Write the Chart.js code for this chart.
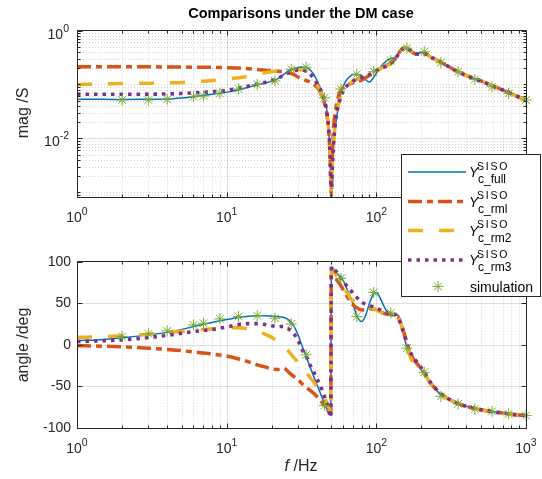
<!DOCTYPE html>
<html>
<head>
<meta charset="utf-8">
<script src="https://cdn.jsdelivr.net/npm/chart.js@4.4.1/dist/chart.umd.min.js"></script>
<style>
  html, body { margin: 0; padding: 0; background: #fff; }
  #wrap { position: relative; width: 542px; height: 479px; overflow: hidden; }
  #magChart { position: absolute; left: 0; top: 0; }
  #angChart { position: absolute; left: 0; top: 240px; }
  #overlay { position: absolute; left: 0; top: 0; pointer-events: none; }
</style>
</head>
<body>
<div id="wrap">
  <canvas id="magChart" width="542" height="240"></canvas>
  <canvas id="angChart" width="542" height="239"></canvas>
  <svg id="overlay" width="542" height="479" font-family="'Liberation Sans', Arial, sans-serif">
    <text x="301" y="18" text-anchor="middle" font-size="14.5" font-weight="bold" fill="#000">Comparisons under the DM case</text>
    <text transform="translate(28,113) rotate(-90)" text-anchor="middle" font-size="16" fill="#262626">mag /S</text>
    <text transform="translate(28,345) rotate(-90)" text-anchor="middle" font-size="16" fill="#262626">angle /deg</text>
    <text x="301" y="471" text-anchor="middle" font-size="16" fill="#262626"><tspan font-style="italic">f</tspan> /Hz</text>
    <g id="legend"></g>
  </svg>
</div>
<script>
// 1. Data (frequency in Hz)
const FREQ = [
  1, 1.5, 2, 3, 4, 5, 6, 8, 10, 12,
  14, 16, 18, 20, 22, 24, 26, 28, 30, 32,
  34, 36, 38, 40, 42, 44, 46, 47, 48, 49,
  49.6, 50, 50.4, 51, 52, 54, 56, 58, 61, 64,
  67, 70, 75, 80, 85, 90, 95, 100, 105, 110,
  115, 120, 125, 130, 135, 140, 145, 150, 155, 160,
  170, 180, 190, 200, 215, 230, 250, 275, 300, 350,
  400, 500, 600, 700, 850, 1000
];

// magnitude /S
const MAG_FULL = [
  0.053, 0.053, 0.0525, 0.053, 0.0536, 0.056, 0.059, 0.0655, 0.072, 0.08,
  0.089, 0.098, 0.106, 0.114, 0.128, 0.152, 0.178, 0.197, 0.206, 0.21,
  0.207, 0.187, 0.156, 0.121, 0.0895, 0.0636, 0.0415, 0.0295, 0.0155, 0.0049,
  0.00136, 0.0002, 0.0015, 0.004, 0.00865, 0.0219, 0.0415, 0.0722, 0.1016, 0.126,
  0.143, 0.153, 0.153, 0.143, 0.121, 0.111, 0.129, 0.163, 0.197, 0.234,
  0.26, 0.29, 0.302, 0.309, 0.322, 0.366, 0.426, 0.473, 0.494, 0.484,
  0.426, 0.383, 0.374, 0.391, 0.383, 0.325, 0.29, 0.249, 0.219, 0.173,
  0.146, 0.116, 0.0933, 0.0787, 0.0622, 0.0514
];
const MAG_RML = [
  0.213, 0.213, 0.212, 0.212, 0.211, 0.21, 0.209, 0.207, 0.204, 0.201,
  0.196, 0.19, 0.184, 0.178, 0.175, 0.172, 0.165, 0.153, 0.137, 0.126,
  0.118, 0.112, 0.102, 0.0895, 0.0722, 0.054, 0.035, 0.025, 0.0143, 0.0049,
  0.0015, 0.0009, 0.0015, 0.006, 0.018, 0.04, 0.062, 0.0787, 0.0895, 0.0975,
  0.104, 0.108, 0.113, 0.121, 0.134, 0.146, 0.163, 0.181, 0.193, 0.206,
  0.219, 0.234, 0.249, 0.272, 0.309, 0.366, 0.426, 0.473, 0.494, 0.473,
  0.417, 0.374, 0.366, 0.374, 0.366, 0.322, 0.29, 0.249, 0.219, 0.173,
  0.146, 0.116, 0.0933, 0.0787, 0.0622, 0.0514
];
const MAG_RM2 = [
  0.1, 0.102, 0.104, 0.105, 0.107, 0.109, 0.112, 0.118, 0.126, 0.133,
  0.143, 0.156, 0.165, 0.172, 0.178, 0.184, 0.188, 0.19, 0.19, 0.186,
  0.175, 0.156, 0.128, 0.1, 0.0755, 0.0536, 0.035, 0.026, 0.015, 0.0052,
  0.0016, 0.0011, 0.0016, 0.004, 0.0093, 0.026, 0.0433, 0.061, 0.0822, 0.0955,
  0.106, 0.116, 0.126, 0.134, 0.143, 0.153, 0.166, 0.181, 0.193, 0.206,
  0.215, 0.229, 0.244, 0.272, 0.309, 0.359, 0.417, 0.463, 0.484, 0.473,
  0.417, 0.374, 0.366, 0.374, 0.366, 0.322, 0.29, 0.249, 0.219, 0.173,
  0.146, 0.116, 0.0933, 0.0787, 0.0622, 0.0514
];
const MAG_RM3 = [
  0.0655, 0.0656, 0.0657, 0.066, 0.0665, 0.068, 0.0695, 0.073, 0.078, 0.085,
  0.093, 0.101, 0.109, 0.118, 0.13, 0.148, 0.165, 0.178, 0.186, 0.186,
  0.175, 0.156, 0.131, 0.106, 0.0847, 0.061, 0.0398, 0.0272, 0.0155, 0.0056,
  0.00166, 0.0012, 0.00166, 0.004, 0.0093, 0.026, 0.0433, 0.061, 0.0822, 0.0955,
  0.106, 0.116, 0.126, 0.134, 0.143, 0.153, 0.166, 0.181, 0.193, 0.206,
  0.215, 0.229, 0.244, 0.272, 0.309, 0.359, 0.417, 0.463, 0.484, 0.473,
  0.417, 0.374, 0.366, 0.374, 0.366, 0.322, 0.29, 0.249, 0.219, 0.173,
  0.146, 0.116, 0.0933, 0.0787, 0.0622, 0.0514
];

// angle /deg
const ANG_FULL = [
  5, 6.5, 8.5, 12, 15, 18.5, 22, 27, 30.5, 33,
  34.5, 35, 35, 34.5, 34, 33, 30, 23, 12, -2,
  -14, -26, -37, -47, -57, -66, -75, -78, -81, -84,
  -85, 90, 94, 93, 91, 87, 84, 81, 75, 66,
  58, 48, 33, 28, 36, 50, 60, 63, 58, 50,
  43, 38, 35.5, 35, 36, 35.5, 29, 18, 6, -3,
  -14, -20, -25, -30, -38, -47, -54, -61, -65, -71,
  -74, -78, -80.5, -82, -84, -85
];
const ANG_RML = [
  -1, -1.7, -2.4, -4, -5.6, -7, -8.6, -11, -13.5, -17,
  -20.5, -24, -26.5, -29, -29.5, -28, -33, -38, -42, -47,
  -51, -54.5, -58, -62, -66, -71, -76, -78, -80, -82,
  -83, 82, 84, 84, 83, 79, 75, 71, 64, 58,
  52, 48, 44, 42, 42.5, 43.5, 43, 42, 40.5, 38.5,
  37.5, 37, 36.5, 36, 35, 33, 28, 20, 11, 1,
  -11, -19, -24, -29, -37, -46, -53, -60, -64.5, -70.5,
  -74, -78, -80.5, -82, -84, -85
];
const ANG_RM2 = [
  9, 9.8, 10.8, 12.8, 14.8, 16.3, 17.5, 19.5, 20.5, 20.5,
  19, 16.5, 13, 9, 4, -2, -8, -15, -21, -27,
  -33, -39, -44, -50, -55, -61, -67, -71, -75, -80,
  -84, 86, 90, 90, 88, 84, 80, 75, 68, 62,
  56, 53, 51, 49, 47, 45, 44, 42, 40, 38,
  36, 34.5, 33.5, 33, 33, 32, 27, 18, 8, -2,
  -16, -23, -27, -31, -38, -46, -53, -60, -64.5, -70.5,
  -74, -78, -80.5, -82, -84, -85
];
const ANG_RM3 = [
  4, 5, 6, 8.8, 11.5, 14, 16, 18.5, 21.5, 24.5,
  25.5, 25.5, 24.5, 23, 22, 22, 19, 14, 5, -6,
  -14, -24, -32, -40, -48, -57, -67, -72, -78, -85,
  -87, 90, 94, 93, 91, 88, 84, 80, 75, 70,
  66, 62, 56, 51, 49, 47, 46, 44, 42.5, 40.5,
  39, 38, 37.5, 37, 36, 32, 26, 18, 11, 2,
  -10, -17, -22, -28, -36, -45, -53, -60, -64.5, -70.5,
  -74, -78, -80.5, -82, -84, -85
];

// simulation points
const SIM_FREQ = [2, 3, 4, 6, 7, 9, 12, 16, 21, 27, 34, 45, 58, 74, 96, 125, 160, 209, 270, 352, 455, 593, 765, 1000];
const SIM_MAG = [0.0514, 0.0514, 0.053, 0.0591, 0.061, 0.0684, 0.0822, 0.1, 0.116, 0.191, 0.208, 0.0566, 0.0822, 0.154, 0.172, 0.275, 0.468, 0.404, 0.253, 0.172, 0.124, 0.0906, 0.0684, 0.0514];
const SIM_ANG = [10, 13.2, 16.8, 24, 26, 31.2, 34, 35.2, 32, 25.2, -12, -72.8, 80, 34, 63, 38.4, -4, -33, -62, -71, -77, -80, -83, -85];

// tick labels
const X_TICKS = [1, 10, 100, 1000];
const MAG_TICKS = [0.01, 1];
const ANG_TICKS = [-100, -50, 0, 50, 100];
const SERIES_SUBS = ['c_full', 'c_rml', 'c_rm2', 'c_rm3'];

// 2. Styles (MATLAB default colour order)
const STYLES = [
  { color: '#0072BD', width: 1.5, dash: [], order: 4 },
  { color: '#D95319', width: 3.5, dash: [14, 5, 6, 5], order: 3 },
  { color: '#EDB120', width: 3.5, dash: [15, 16], order: 2 },
  { color: '#7E2F8E', width: 3.6, dash: [3.5, 5], order: 1 }
];
const SIM_COLOR = '#77AC30';
const FONT = '"Liberation Sans", Arial, sans-serif';
const AX_COLOR = '#262626';

function logMinor(lo, hi) {
  const out = [];
  for (let e = Math.floor(Math.log10(lo)); e < Math.ceil(Math.log10(hi)); e++) {
    for (let k = 1; k <= 9; k++) {
      const v = k * Math.pow(10, e);
      if (v > lo && v < hi) out.push(v);
    }
  }
  return out;
}

function drawPow(ctx, x, base, exp, align) {
  ctx.font = '14px ' + FONT;
  const w1 = ctx.measureText('10').width;
  ctx.font = '10.5px ' + FONT;
  const w2 = ctx.measureText(exp).width;
  const x0 = align === 'right' ? x - w1 - w2 : x - (w1 + w2) / 2;
  ctx.textAlign = 'left';
  ctx.textBaseline = 'alphabetic';
  ctx.font = '14px ' + FONT;
  ctx.fillText('10', x0, base);
  ctx.font = '10.5px ' + FONT;
  ctx.fillText(exp, x0 + w1, base - 7);
}

// 3. Axes plugin: grid, box, inward ticks, tick labels
function makeAxes(cfg) {
  const snap = v => Math.round(v) + 0.5;
  return {
    id: 'matlabAxes',
    beforeDatasetsDraw(chart) {
      const ctx = chart.ctx, a = chart.chartArea, xs = chart.scales.x, ys = chart.scales.y;
      ctx.save();
      ctx.lineWidth = 1;
      ctx.strokeStyle = 'rgba(38,38,38,0.2)';
      ctx.setLineDash([1, 2]);
      ctx.beginPath();
      cfg.xMinor.forEach(v => { const p = snap(xs.getPixelForValue(v)); ctx.moveTo(p, a.top); ctx.lineTo(p, a.bottom); });
      cfg.yMinorGrid.forEach(v => { const p = snap(ys.getPixelForValue(v)); ctx.moveTo(a.left, p); ctx.lineTo(a.right, p); });
      ctx.stroke();
      ctx.setLineDash([]);
      ctx.strokeStyle = 'rgba(38,38,38,0.15)';
      ctx.beginPath();
      cfg.xGrid.forEach(v => { const p = snap(xs.getPixelForValue(v)); ctx.moveTo(p, a.top); ctx.lineTo(p, a.bottom); });
      cfg.yGrid.forEach(v => { const p = snap(ys.getPixelForValue(v)); ctx.moveTo(a.left, p); ctx.lineTo(a.right, p); });
      ctx.stroke();
      ctx.restore();
    },
    afterDatasetsDraw(chart) {
      const ctx = chart.ctx, a = chart.chartArea, xs = chart.scales.x, ys = chart.scales.y;
      const L = Math.floor(a.left) + 0.5, R = Math.floor(a.right) + 0.5;
      const T = Math.floor(a.top) + 0.5, B = Math.floor(a.bottom) + 0.5;
      ctx.save();
      ctx.strokeStyle = AX_COLOR;
      ctx.lineWidth = 1;
      ctx.beginPath();
      ctx.rect(L, T, R - L, B - T);
      // ticks point inward on all four sides
      const xt = (vals, len) => vals.forEach(v => {
        const p = snap(xs.getPixelForValue(v));
        ctx.moveTo(p, B); ctx.lineTo(p, B - len);
        ctx.moveTo(p, T); ctx.lineTo(p, T + len);
      });
      const yt = (vals, len) => vals.forEach(v => {
        const p = snap(ys.getPixelForValue(v));
        ctx.moveTo(L, p); ctx.lineTo(L + len, p);
        ctx.moveTo(R, p); ctx.lineTo(R - len, p);
      });
      xt(cfg.xMinor, 3); xt(X_TICKS, 5);
      yt(cfg.yMinorTicks, 3); yt(cfg.yTicks, 5);
      ctx.stroke();

      // tick labels
      ctx.fillStyle = AX_COLOR;
      X_TICKS.forEach(v => drawPow(ctx, xs.getPixelForValue(v), a.bottom + 24.5, String(Math.round(Math.log10(v))), 'center'));
      if (cfg.yLog) {
        cfg.yTicks.forEach(v => {
          const p = ys.getPixelForValue(v);
          drawPow(ctx, 69, p + 8, String(Math.round(Math.log10(v))), 'right');
        });
      } else {
        ctx.font = '14px ' + FONT;
        ctx.textAlign = 'right';
        ctx.textBaseline = 'middle';
        cfg.yTicks.forEach(v => ctx.fillText(String(v), 71, ys.getPixelForValue(v)));
      }
      ctx.restore();
    }
  };
}

function lineSet(label, ys, st) {
  return {
    label: label,
    data: FREQ.map((f, i) => ({ x: f, y: ys[i] })),
    borderColor: st.color,
    borderWidth: st.width,
    borderDash: st.dash,
    borderCapStyle: 'butt',
    pointRadius: 0,
    fill: false,
    cubicInterpolationMode: 'monotone',
    capBezierPoints: false,
    clip: 0,
    order: st.order
  };
}

function simSet(ys) {
  return {
    label: 'simulation',
    data: SIM_FREQ.map((f, i) => ({ x: f, y: ys[i] })),
    showLine: false,
    pointStyle: 'star',
    pointRadius: 5.5,
    pointBorderWidth: 1,
    pointBorderColor: SIM_COLOR,
    pointBackgroundColor: SIM_COLOR,
    clip: false,
    order: 0
  };
}

function makeChart(id, series, sim, yScale, padding, axCfg) {
  return new Chart(document.getElementById(id), {
    type: 'line',
    data: {
      datasets: series.map((ys, i) => lineSet(SERIES_SUBS[i], ys, STYLES[i])).concat([simSet(sim)])
    },
    options: {
      responsive: false,
      animation: false,
      events: [],
      layout: { padding: padding },
      scales: {
        x: { type: 'logarithmic', min: 1, max: 1000, display: false },
        y: Object.assign({ display: false }, yScale)
      },
      plugins: { legend: { display: false }, tooltip: { enabled: false }, title: { display: false } }
    },
    plugins: [makeAxes(axCfg)]
  });
}

const X_MINOR = logMinor(1, 1000).filter(v => X_TICKS.indexOf(v) < 0);
const MAG_MINOR = logMinor(0.0008, 1).filter(v => MAG_TICKS.indexOf(v) < 0);

// 4. Magnitude plot
makeChart('magChart', [MAG_FULL, MAG_RML, MAG_RM2, MAG_RM3], SIM_MAG,
  { type: 'logarithmic', min: 0.0008, max: 1 },
  { left: 77, right: 16, top: 30.5, bottom: 42.5 },
  { xMinor: X_MINOR, xGrid: [10, 100], yMinorGrid: MAG_MINOR, yGrid: [0.01],
    yMinorTicks: MAG_MINOR, yTicks: MAG_TICKS, yLog: true });

// 5. Angle plot
makeChart('angChart', [ANG_FULL, ANG_RML, ANG_RM2, ANG_RM3], SIM_ANG,
  { type: 'linear', min: -100, max: 100 },
  { left: 77, right: 16, top: 21.7, bottom: 51 },
  { xMinor: X_MINOR, xGrid: [10, 100], yMinorGrid: [], yGrid: [-50, 0, 50],
    yMinorTicks: [], yTicks: ANG_TICKS, yLog: false });

// 6. Legend, drawn over both plots
(function buildLegend() {
  const rows = [172, 201.5, 230.5, 260];
  let s = '<rect x="401.5" y="154.5" width="139" height="142" fill="#fff" stroke="' + AX_COLOR + '" stroke-width="1"/>';
  SERIES_SUBS.forEach((sub, i) => {
    const cy = rows[i], st = STYLES[i];
    const dash = st.dash.length ? st.dash.join(' ') : 'none';
    s += '<line x1="408" x2="466" y1="' + cy + '" y2="' + cy + '" stroke="' + st.color + '" stroke-width="' + st.width + '" stroke-dasharray="' + dash + '"/>';
    s += '<text x="469" y="' + (cy + 5) + '" font-size="14" font-style="italic" fill="#000">Y</text>';
    s += '<text x="477" y="' + (cy - 2.3) + '" font-size="10.5" letter-spacing="1.8" fill="#000">SISO</text>';
    s += '<text x="478" y="' + (cy + 11) + '" font-size="12" fill="#000">' + sub + '</text>';
  });
  const mx = 438, my = 286.5, r = 5.5, d = r * Math.SQRT1_2;
  s += '<g stroke="' + SIM_COLOR + '" stroke-width="1">' +
    '<line x1="' + (mx - r) + '" y1="' + my + '" x2="' + (mx + r) + '" y2="' + my + '"/>' +
    '<line x1="' + mx + '" y1="' + (my - r) + '" x2="' + mx + '" y2="' + (my + r) + '"/>' +
    '<line x1="' + (mx - d) + '" y1="' + (my - d) + '" x2="' + (mx + d) + '" y2="' + (my + d) + '"/>' +
    '<line x1="' + (mx - d) + '" y1="' + (my + d) + '" x2="' + (mx + d) + '" y2="' + (my - d) + '"/></g>';
  s += '<text x="470" y="' + (my + 5) + '" font-size="14" fill="#000">simulation</text>';
  document.getElementById('legend').innerHTML = s;
})();
</script>
</body>
</html>
